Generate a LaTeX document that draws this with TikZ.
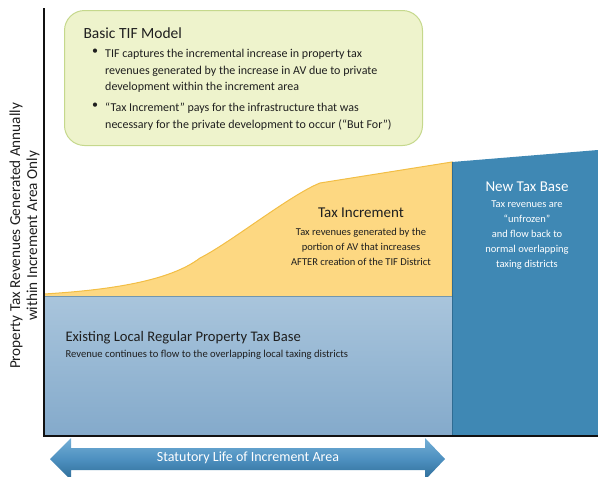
\documentclass[tikz,border=0pt]{standalone}
\usepackage{fontspec}
\setmainfont{Carlito}
\usetikzlibrary{calc}
\definecolor{axisblack}{HTML}{111111}
\definecolor{baseTop}{HTML}{A9C5DC}
\definecolor{baseBot}{HTML}{84AACB}
\definecolor{baseEdge}{HTML}{5F8DB5}
\definecolor{incFill}{HTML}{FDD882}
\definecolor{incEdge}{HTML}{F2BE45}
\definecolor{newFill}{HTML}{3F88B4}
\definecolor{newEdge}{HTML}{2F6C93}
\definecolor{noteFill}{HTML}{EEF3CC}
\definecolor{noteEdge}{HTML}{C5D88C}
\definecolor{arrTop}{HTML}{74AFD6}
\definecolor{arrMid}{HTML}{4D90C0}
\definecolor{arrBot}{HTML}{2E6C97}
\definecolor{darktext}{HTML}{1F1F1F}
\tikzset{
  title/.style={font=\fontsize{15}{18}\selectfont, text=darktext},
  small/.style={font=\fontsize{10.5}{15}\selectfont, text=darktext, align=center},
  smallwhite/.style={font=\fontsize{10.5}{15}\selectfont, text=white, align=center},
  bulletline/.style={font=\fontsize{12}{16.5}\selectfont, text=darktext, anchor=north west,
    align=left, inner sep=0pt},
  bulletdot/.style={font=\fontsize{12}{16.5}\selectfont, text=darktext, anchor=north west,
    inner sep=0pt},
  axislabel/.style={rotate=90, font=\fontsize{15.2}{18}\selectfont, text=darktext},
}
\begin{document}
\begin{tikzpicture}[x=1pt,y=-1pt]
\useasboundingbox (0,0) rectangle (598,477);

% existing base (light blue)
\shade[top color=baseTop, bottom color=baseBot] (44,296) rectangle (452,435);
\draw[baseEdge, line width=0.8pt] (44,296) rectangle (452,435);

% tax increment (yellow)
\fill[incFill] (44,294) .. controls (110,290) and (170,281) .. (200,258)
  .. controls (230,243) and (290,195) .. (320,183)
  -- (452,162) -- (452,296) -- (44,296) -- cycle;
\draw[incEdge, line width=1pt] (44,294) .. controls (110,290) and (170,281) .. (200,258)
  .. controls (230,243) and (290,195) .. (320,183)
  -- (452,162) -- (452,296);

% new tax base (dark blue)
\fill[newFill] (452,162) -- (598,150) -- (598,435) -- (452,435) -- cycle;
\draw[newEdge, line width=0.8pt] (452,162) -- (452,435);

% axes
\draw[axisblack, line width=1.4pt] (44,8) -- (44,436) -- (598,436);

% note box
\node[draw=noteEdge, fill=noteFill, line width=1pt, rounded corners=20pt,
      minimum width=358pt, minimum height=135pt, anchor=north west] (note) at (64,10) {};
\node[title, font=\fontsize{15.5}{18}\selectfont, anchor=west] (notetitle) at (80,33) {Basic TIF Model};
\node[bulletdot] (dot1) at (92,49) {\textbullet};
\node[bulletline] (item1) at (105,49)
  {TIF captures the incremental increase in property tax\\
   revenues generated by the increase in AV due to private\\
   development within the increment area};
\node[bulletdot] (dot2) at (92,103) {\textbullet};
\node[bulletline] (item2) at (105,103)
  {“Tax Increment” pays for the infrastructure that was\\
   necessary for the private development to occur (“But For”)};

% axis label, two centred lines
\node[axislabel] (ylabelA) at (16,236) {Property Tax Revenues Generated Annually};
\node[axislabel] (ylabelB) at (33,236) {within Increment Area Only};

% region labels
\node[title] (inctitle) at (361,213) {Tax Increment};
\node[small, anchor=north] (inctext) at (361,225)
  {Tax revenues generated by the\\portion of AV that increases\\AFTER creation of the TIF District};

\node[title, text=white] (newtitle) at (527,187) {New Tax Base};
\node[smallwhite, anchor=north] (newtext) at (527,197)
  {Tax revenues are\\“unfrozen”\\and flow back to\\normal overlapping\\taxing districts};

\node[title, font=\fontsize{14.6}{18}\selectfont, anchor=west] (basetitle) at (62,338)
  {Existing Local Regular Property Tax Base};
\node[font=\fontsize{10.6}{12}\selectfont, text=darktext, anchor=west] (basetext) at (62,355)
  {Revenue continues to flow to the overlapping local taxing districts};

% statutory life double arrow
\shade[top color=arrTop, bottom color=arrBot, middle color=arrMid]
  (50,459) -- (71,438) -- (71,448) -- (425,448) -- (425,438) -- (445,459)
  -- (425,480) -- (425,470) -- (71,470) -- (71,480) -- cycle;
\node[font=\fontsize{14}{16}\selectfont, text=white] (lifelabel) at (248,458)
  {Statutory Life of Increment Area};
\end{tikzpicture}
\end{document}
